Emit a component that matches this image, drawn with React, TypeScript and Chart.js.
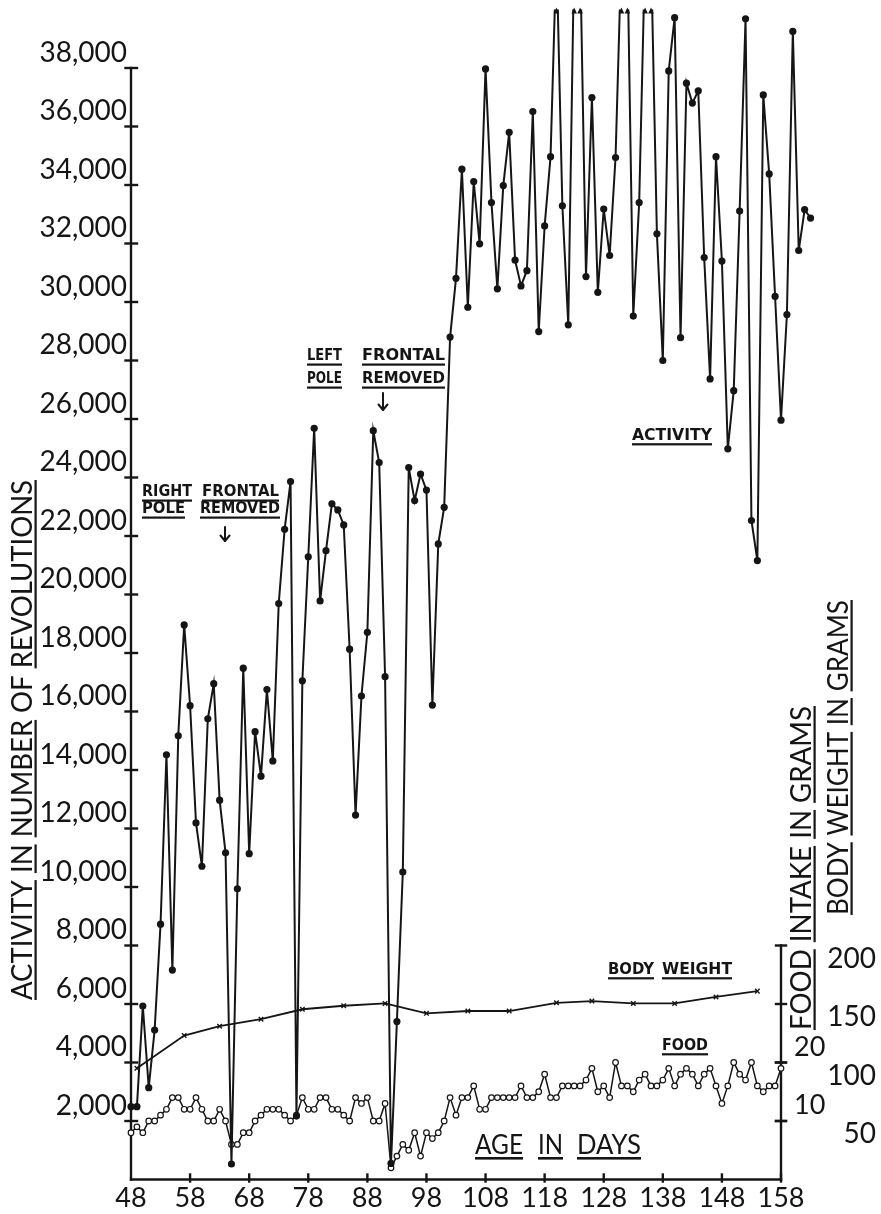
import React, { useEffect, useRef } from "react";
import { Chart, registerables } from "chart.js";

Chart.register(...registerables);

const INK = "#151515";

// Age in days (horizontal axis); the wheel record runs a few days past the last labelled day
const FIRST_DAY = 48;
const dayTicks = [48, 58, 68, 78, 88, 98, 108, 118, 128, 138, 148, 158];
const LAST_PLOTTED_DAY = 164;

// Daily wheel revolutions from day 48 on; OFF marks days that ran above the top of the scale
const OFF = 42000;
const activity = [
  2490, 2490, 5930, 3140, 5110, 8730, 14520, 7160, 15170, 18960, // 48-57
  16200, 12190, 10710, 15750, 16950, 12970, 11170, 530, 9940, 17480, // 58-67
  11140, 15310, 13790, 16750, 14310, 19690, 22230, 23860, 2170, 17050, // 68-77
  21290, 25680, 19780, 21500, 23100, 22890, 22380, 18130, 12460, 16530, // 78-87
  18710, 25600, 24510, 17190, 550, 5400, 10510, 24340, 23210, 24120, // 88-97
  23570, 16220, 21730, 22980, 28800, 30810, 34540, 29820, 34120, 31990, // 98-107
  37970, 33400, 30450, 33980, 35800, 31430, 30550, 31070, 36510, 28990, // 108-117
  32600, 34970, OFF, 33290, 29220, OFF, OFF, 30870, 36990, 30330, // 118-127
  33180, 31590, 34940, OFF, OFF, 29520, 33400, OFF, OFF, 32330, // 128-137
  28000, 37900, 39720, 28780, 37480, 36800, 37220, 31520, 27370, 34970, // 138-147
  31400, 24980, 26970, 33110, 39680, 22530, 21160, 37080, 34380, 30190, // 148-157
  25960, 29570, 39250, 31760, 33160, 32870, // 158-163
];
const activityTicks = [
  2000, 4000, 6000, 8000, 10000, 12000, 14000, 16000, 18000, 20000,
  22000, 24000, 26000, 28000, 30000, 32000, 34000, 36000, 38000,
];
const ACTIVITY_MAX = 40000;

// Daily food intake in grams, days 48-158
const foodIntake = [
  8, 9, 8, 10, 10, 11, 12, 14, 14, 12, // 48-57
  12, 14, 12, 10, 10, 12, 10, 6, 6, 8, // 58-67
  8, 10, 11, 12, 12, 12, 11, 10, 11, 14, // 68-77
  12, 12, 14, 14, 12, 12, 11, 10, 14, 13, // 78-87
  14, 10, 10, 13, 2, 4, 6, 5, 8, 4, // 88-97
  8, 7, 8, 10, 14, 11, 14, 14, 16, 12, // 98-107
  12, 14, 14, 14, 14, 14, 16, 14, 14, 15, // 108-117
  18, 14, 14, 16, 16, 16, 16, 17, 19, 15, // 118-127
  16, 14, 20, 16, 16, 15, 17, 18, 16, 16, // 128-137
  17, 19, 16, 18, 19, 18, 16, 18, 19, 16, // 138-147
  13, 16, 20, 18, 17, 20, 16, 15, 16, 16, // 148-157
  19, // 158
];
const foodTicks = [10, 20];

// Weekly body weight in grams
const weighDays = [49, 57, 63, 70, 77, 84, 91, 98, 105, 112, 120, 126, 133, 140, 147, 154];
const bodyWeight = [95, 123, 131, 137, 145.5, 148.5, 150.5, 142, 144, 144, 151, 152.5, 150.5, 150.5, 156, 161];
const weightTicks = [50, 100, 150, 200];

// One grid step = 2,000 revolutions = 10 g food = 50 g body weight
const FOOD_MAX = ACTIVITY_MAX / 200;
const WEIGHT_MAX = ACTIVITY_MAX / 40;

const LETTER = "Lato";
const STENCIL = '"DejaVu Sans"';

function seg(ctx: CanvasRenderingContext2D, x1: number, y1: number, x2: number, y2: number) {
  ctx.beginPath();
  ctx.moveTo(x1, y1);
  ctx.lineTo(x2, y2);
  ctx.stroke();
}

// One word squeezed or stretched to a given width, optionally underlined
function word(
  ctx: CanvasRenderingContext2D,
  text: string,
  left: number,
  baseline: number,
  width: number,
  font: string,
  ul: number | null,
  ulH = 2.2
) {
  ctx.save();
  ctx.font = font;
  ctx.textAlign = "left";
  ctx.textBaseline = "alphabetic";
  const w = ctx.measureText(text).width;
  ctx.translate(left, baseline);
  ctx.scale(width / w, 1);
  ctx.fillText(text, 0, 0);
  ctx.restore();
  if (ul !== null) ctx.fillRect(left, baseline + ul, width, ulH);
}

// A line of words read bottom-to-top, each word underlined when flagged
function verticalTitle(
  ctx: CanvasRenderingContext2D,
  words: string[],
  underline: boolean[],
  baselineX: number,
  startY: number,
  length: number,
  font: string
) {
  ctx.save();
  ctx.translate(baselineX, startY);
  ctx.rotate(-Math.PI / 2);
  ctx.font = font;
  ctx.textAlign = "left";
  ctx.textBaseline = "alphabetic";
  const space = ctx.measureText(" ").width;
  const widths = words.map((w) => ctx.measureText(w).width);
  const natural = widths.reduce((a, b) => a + b, 0) + space * (words.length - 1);
  ctx.scale(length / natural, 1);
  let cx = 0;
  words.forEach((w, i) => {
    ctx.fillText(w, cx, 0);
    if (underline[i]) ctx.fillRect(cx, 2.5, widths[i], 2.2);
    cx += widths[i] + space;
  });
  ctx.restore();
}

function downArrow(ctx: CanvasRenderingContext2D, x: number, y1: number, y2: number) {
  ctx.save();
  ctx.lineWidth = 2;
  ctx.lineCap = "round";
  ctx.lineJoin = "round";
  seg(ctx, x, y1, x, y2);
  ctx.beginPath();
  ctx.moveTo(x - 4.5, y2 - 5.5);
  ctx.lineTo(x, y2);
  ctx.lineTo(x + 4.5, y2 - 5.5);
  ctx.stroke();
  ctx.restore();
}

const handAxes = {
  id: "handAxes",
  beforeDatasetsDraw(chart: any) {
    const ctx: CanvasRenderingContext2D = chart.ctx;
    const sx = chart.scales.x;
    const sy = chart.scales.y;
    const sf = chart.scales.yFood;
    const sw = chart.scales.yBW;
    const left = sx.getPixelForValue(dayTicks[0]);
    const right = sx.getPixelForValue(dayTicks[dayTicks.length - 1]);
    const base = sy.getPixelForValue(0);

    ctx.save();
    ctx.strokeStyle = INK;
    ctx.fillStyle = INK;
    ctx.lineWidth = 2.4;
    ctx.lineCap = "square";

    // activity axis with ticks crossing the line
    seg(ctx, left, base, left, sy.getPixelForValue(activityTicks[activityTicks.length - 1]));
    for (const v of activityTicks) {
      const p = sy.getPixelForValue(v);
      seg(ctx, left - 5.5, p, left + 6, p);
    }

    // age axis
    seg(ctx, left, base, right, base);
    for (const d of dayTicks.slice(1)) {
      const p = sx.getPixelForValue(d);
      seg(ctx, p, base - 5, p, base + 2);
    }

    // food / body weight axis
    seg(ctx, right, base, right, sw.getPixelForValue(weightTicks[weightTicks.length - 1]));
    for (const v of weightTicks) {
      const p = sw.getPixelForValue(v);
      seg(ctx, right - 5, p, right + 5, p);
    }
    for (const v of foodTicks) {
      const p = sf.getPixelForValue(v);
      seg(ctx, right - 5, p, right + 5, p);
    }

    ctx.textBaseline = "middle";
    ctx.font = `28px ${LETTER}`;
    ctx.textAlign = "right";
    for (const v of weightTicks) ctx.fillText(String(v), 876, sw.getPixelForValue(v) + 13);
    ctx.font = `27px ${LETTER}`;
    ctx.textAlign = "left";
    for (const v of foodTicks) ctx.fillText(String(v), 794, sf.getPixelForValue(v) - 15.5);

    // axis titles
    const titleFont = `28px ${LETTER}`;
    verticalTitle(
      ctx,
      ["ACTIVITY", "IN", "NUMBER", "OF", "REVOLUTIONS"],
      [true, true, true, false, true],
      32,
      1000,
      520,
      titleFont
    );
    verticalTitle(
      ctx,
      ["FOOD", "INTAKE", "IN", "GRAMS"],
      [true, true, true, true],
      811,
      1030,
      324,
      titleFont
    );
    verticalTitle(
      ctx,
      ["BODY", "WEIGHT", "IN", "GRAMS"],
      [true, true, true, true],
      848,
      915,
      315,
      titleFont
    );

    const ageFont = `26px ${LETTER}`;
    word(ctx, "AGE", 475, 1154, 48, ageFont, 3, 2.6);
    word(ctx, "IN", 538, 1154, 25, ageFont, 3, 2.6);
    word(ctx, "DAYS", 577, 1154, 64, ageFont, 3, 2.6);

    // series and surgery notes
    const note = `bold 16px ${STENCIL}`;
    word(ctx, "RIGHT", 142, 496, 50, note, 3.5);
    word(ctx, "FRONTAL", 202, 496, 77, note, 3.5);
    word(ctx, "POLE", 142, 513, 43, note, 3.5);
    word(ctx, "REMOVED", 200, 513, 80, note, 3.5);
    downArrow(ctx, 225, 527, 541);

    word(ctx, "LEFT", 307, 360, 35, note, 3.5);
    word(ctx, "FRONTAL", 362, 360, 83, note, 3.5);
    word(ctx, "POLE", 307, 383, 35, note, 3.5);
    word(ctx, "REMOVED", 362, 383, 83, note, 3.5);
    downArrow(ctx, 383, 393, 410);

    word(ctx, "ACTIVITY", 632, 440, 80, note, 3.2);
    word(ctx, "BODY", 608, 974, 46, note, 3.2);
    word(ctx, "WEIGHT", 662, 974, 70, note, 3.2);
    word(ctx, "FOOD", 662, 1050, 46, note, 3.2);

    ctx.restore();
  },
  afterDatasetsDraw(chart: any) {
    // small arrowheads where the activity line leaves the top of the scale
    const ctx: CanvasRenderingContext2D = chart.ctx;
    const sx = chart.scales.x;
    const top = chart.chartArea.top;
    ctx.save();
    ctx.fillStyle = INK;
    activity.forEach((v, i) => {
      if (v <= ACTIVITY_MAX) return;
      const p = sx.getPixelForValue(FIRST_DAY + i);
      ctx.beginPath();
      ctx.moveTo(p, top - 2);
      ctx.lineTo(p - 2.8, top + 4);
      ctx.lineTo(p + 2.8, top + 4);
      ctx.closePath();
      ctx.fill();
    });
    ctx.restore();
  },
};

export default function App() {
  const canvasRef = useRef<HTMLCanvasElement>(null);

  useEffect(() => {
    const canvas = canvasRef.current;
    if (!canvas) return;

    // keep day 158 on the right-hand axis while leaving room for the last wheel counts
    const plotLeft = 131;
    const axisRight = 781;
    const pxPerDay = (axisRight - plotLeft) / (dayTicks[dayTicks.length - 1] - dayTicks[0]);
    const plotRight = plotLeft + pxPerDay * (LAST_PLOTTED_DAY - dayTicks[0]);

    const chart = new Chart(canvas, {
      type: "line",
      data: {
        datasets: [
          {
            label: "Activity",
            data: activity.map((v, i) => ({ x: FIRST_DAY + i, y: v })),
            yAxisID: "y",
            borderColor: INK,
            borderWidth: 2,
            pointBackgroundColor: INK,
            pointBorderColor: INK,
            pointBorderWidth: 0,
            pointRadius: (c: any) => (c.raw && c.raw.y > ACTIVITY_MAX ? 0 : 3.6),
            tension: 0,
            clip: { left: 10, top: 0, right: 10, bottom: 10 } as any,
          },
          {
            label: "Food",
            data: foodIntake.map((v, i) => ({ x: FIRST_DAY + i, y: v })),
            yAxisID: "yFood",
            borderColor: INK,
            borderWidth: 1.5,
            pointBackgroundColor: "#ffffff",
            pointBorderColor: INK,
            pointBorderWidth: 1.2,
            pointRadius: 2.8,
            tension: 0,
            clip: 10,
          },
          {
            label: "Body weight",
            data: weighDays.map((d, i) => ({ x: d, y: bodyWeight[i] })),
            yAxisID: "yBW",
            borderColor: INK,
            borderWidth: 1.8,
            pointStyle: "crossRot",
            pointBorderColor: INK,
            pointBorderWidth: 1.4,
            pointRadius: 3.2,
            tension: 0,
            clip: 10,
          },
        ],
      },
      options: {
        responsive: false,
        maintainAspectRatio: false,
        animation: false,
        events: [],
        layout: { padding: { top: 9.5, right: 881 - plotRight, left: 0, bottom: 0 } },
        plugins: {
          legend: { display: false },
          tooltip: { enabled: false },
        },
        scales: {
          x: {
            type: "linear",
            position: "bottom",
            min: dayTicks[0],
            max: LAST_PLOTTED_DAY,
            grid: { display: false, drawTicks: false },
            border: { display: false },
            ticks: {
              color: INK,
              font: { family: LETTER, size: 27 },
              padding: 3,
              autoSkip: false,
              maxRotation: 0,
              callback: (v: any) => String(v),
            },
            afterBuildTicks: (s: any) => {
              s.ticks = dayTicks.map((v) => ({ value: v }));
            },
            afterFit: (s: any) => {
              s.height = 34.5;
              s.paddingLeft = 0;
              s.paddingRight = 0;
            },
          },
          y: {
            type: "linear",
            position: "left",
            min: 0,
            max: ACTIVITY_MAX,
            grid: { display: false, drawTicks: false },
            border: { display: false },
            ticks: {
              color: INK,
              font: { family: LETTER, size: 28 },
              padding: 4,
              labelOffset: -15.5,
              callback: (v: any) => Number(v).toLocaleString("en-US"),
            },
            afterBuildTicks: (s: any) => {
              s.ticks = activityTicks.map((v) => ({ value: v }));
            },
            afterFit: (s: any) => {
              s.width = plotLeft;
              s.paddingTop = 0;
              s.paddingBottom = 0;
            },
          },
          yFood: { type: "linear", display: false, min: 0, max: FOOD_MAX },
          yBW: { type: "linear", display: false, min: 0, max: WEIGHT_MAX },
        },
      } as any,
      plugins: [handAxes],
    });

    const fonts = (document as any).fonts;
    if (fonts && fonts.load) {
      Promise.all([
        fonts.load(`28px ${LETTER}`),
        fonts.load(`bold 16px ${STENCIL}`),
      ])
        .then(() => chart.update())
        .catch(() => {});
    }

    return () => chart.destroy();
  }, []);

  return (
    <div style={{ position: "absolute", left: 0, top: 0, width: 881, height: 1214, background: "#fff" }}>
      <canvas ref={canvasRef} width={881} height={1214} style={{ display: "block" }} />
    </div>
  );
}
